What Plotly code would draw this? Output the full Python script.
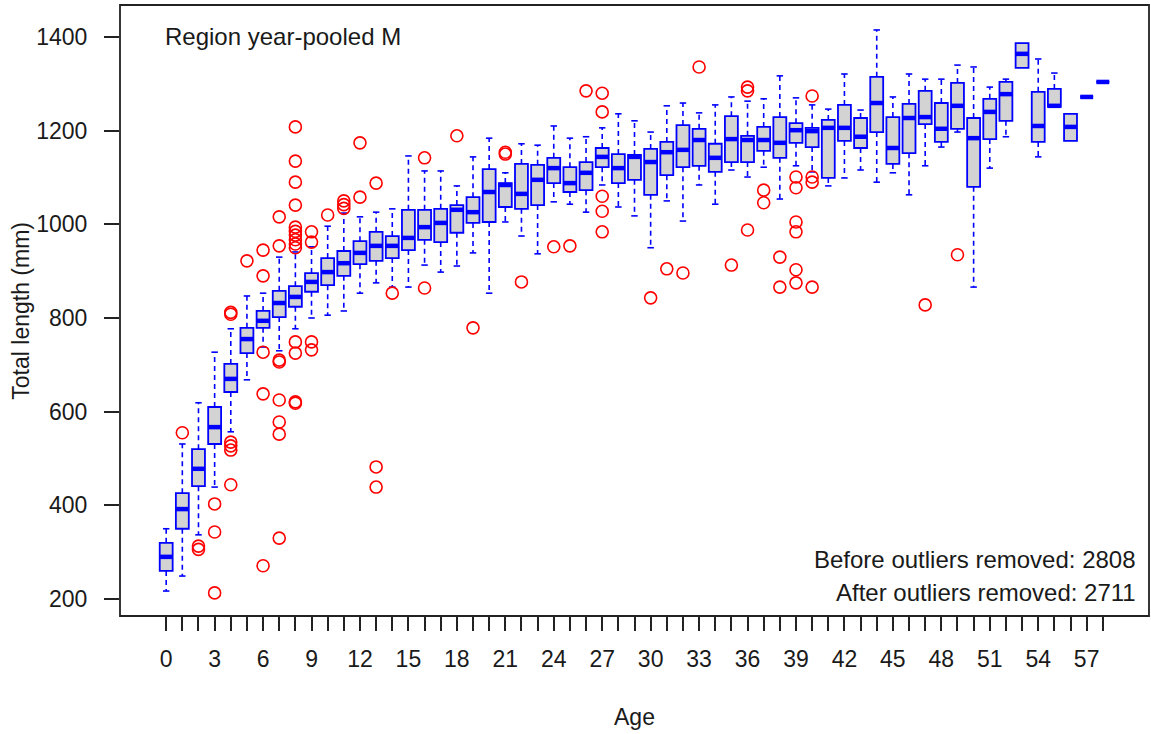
import plotly.graph_objects as go

# per-age box statistics (Total length, mm)
ages = list(range(59))
lower = [217, 249, 337, 439, 557, 668, 738, 730, 777, 800,
         806, 815, 853, 875, 866, 866, 913, 898, 911, 939,
         853, 1005, 975, 937, 1048, 1043, 1026, 1084, 1037, 1018,
         950, 1050, 1007, 1084, 1043, 1116, 1101, 1122, 1054, 1125,
         1112, 1082, 1099, 1116, 1090, 1110, 1063, 1125, 1165, 1197,
         866, 1120, 1187, 1334, 1144, 1251, 1178, 1272, 1304]
q1 = [260, 350, 441, 531, 642, 725, 779, 802, 824, 856,
      870, 890, 915, 922, 928, 945, 967, 962, 982, 1003,
      1005, 1037, 1033, 1041, 1088, 1069, 1073, 1122, 1088, 1095,
      1063, 1105, 1122, 1125, 1112, 1133, 1133, 1157, 1142, 1174,
      1165, 1099, 1178, 1163, 1197, 1129, 1152, 1214, 1176, 1204,
      1080, 1182, 1221, 1334, 1176, 1251, 1178, 1272, 1304]
median = [290, 392, 478, 567, 670, 755, 794, 832, 845, 877,
          898, 917, 939, 954, 954, 971, 994, 1003, 1031, 1026,
          1069, 1084, 1065, 1095, 1120, 1088, 1110, 1144, 1120, 1144,
          1133, 1154, 1159, 1180, 1142, 1182, 1180, 1180, 1174, 1201,
          1199, 1206, 1206, 1187, 1259, 1163, 1227, 1229, 1204, 1253,
          1184, 1240, 1278, 1364, 1210, 1253, 1208, 1272, 1304]
q3 = [320, 426, 520, 610, 702, 779, 815, 858, 868, 896,
      928, 943, 964, 984, 975, 1031, 1031, 1033, 1041, 1058,
      1118, 1088, 1129, 1127, 1142, 1122, 1133, 1163, 1150, 1148,
      1161, 1176, 1212, 1204, 1172, 1231, 1189, 1208, 1229, 1216,
      1206, 1223, 1255, 1227, 1315, 1229, 1257, 1285, 1259, 1302,
      1227, 1268, 1304, 1387, 1283, 1289, 1236, 1272, 1304]
upper = [350, 531, 619, 727, 777, 847, 853, 930, 941, 952,
         996, 1024, 1016, 1026, 1033, 1146, 1114, 1114, 1082, 1144,
         1184, 1110, 1172, 1169, 1210, 1184, 1187, 1206, 1236, 1221,
         1197, 1253, 1259, 1238, 1255, 1272, 1263, 1268, 1317, 1270,
         1255, 1246, 1321, 1244, 1415, 1272, 1321, 1310, 1310, 1340,
         1336, 1293, 1310, 1387, 1353, 1323, 1236, 1272, 1304]

# outliers, one entry per point
out_age = [1, 2, 2, 3, 3, 3,
           4, 4, 4, 4, 4, 4,
           5, 6, 6, 6, 6, 6,
           7, 7, 7, 7, 7, 7, 7, 7,
           8, 8, 8, 8, 8, 8, 8, 8, 8, 8, 8, 8, 8, 8,
           9, 9, 9, 9, 10, 11, 11, 11, 12, 12, 13, 13, 13, 14,
           16, 16, 18, 19, 21, 21, 22, 24, 25, 26,
           27, 27, 27, 27, 27, 30, 31, 32, 33, 35,
           36, 36, 36, 37, 37, 38, 38,
           39, 39, 39, 39, 39, 39, 40, 40, 40, 40, 47, 49]
out_val = [555, 313, 306, 403, 343, 213,
           812, 808, 535, 527, 518, 444,
           922, 945, 890, 727, 638, 271,
           1016, 954, 710, 706, 625, 578, 552, 330,
           1208, 1135, 1090, 1041, 994, 985, 977, 967, 958, 950, 749, 725, 621, 618,
           984, 962, 749, 732, 1020, 1050, 1042, 1034, 1174, 1058, 1088, 482, 439, 853,
           1142, 864, 1189, 779, 1154, 1150, 877, 952, 954, 1285,
           1280, 1240, 1060, 1028, 984, 843, 905, 896, 1336, 913,
           1293, 1285, 988, 1073, 1046, 930, 866,
           1101, 1078, 1005, 984, 903, 875, 1274, 1101, 1090, 866, 828, 935]

y_ticks = [200, 400, 600, 800, 1000, 1200, 1400]
x_ticktext = [str(a) if a % 3 == 0 else '' for a in ages]

BLUE = '#0000FF'
FONT = 'Liberation Sans, Arial, sans-serif'

fig = go.Figure()

# dashed whiskers
wx, wy = [], []
for a, lo, b1, b3, hi in zip(ages, lower, q1, q3, upper):
    if hi > b3:
        wx += [a, a, None]
        wy += [b3, hi, None]
    if lo < b1:
        wx += [a, a, None]
        wy += [b1, lo, None]
fig.add_trace(go.Scatter(x=wx, y=wy, mode='lines', hoverinfo='skip',
                         line=dict(color=BLUE, width=1.6, dash='5px,4px'), showlegend=False))

# whisker caps
cx, cy = [], []
for a, lo, b1, b3, hi in zip(ages, lower, q1, q3, upper):
    if hi > b3:
        cx += [a - 0.2, a + 0.2, None]
        cy += [hi, hi, None]
    if lo < b1:
        cx += [a - 0.2, a + 0.2, None]
        cy += [lo, lo, None]
fig.add_trace(go.Scatter(x=cx, y=cy, mode='lines', hoverinfo='skip',
                         line=dict(color=BLUE, width=1.6), showlegend=False))

# boxes
fig.add_trace(go.Box(
    x=ages, q1=q1, median=median, q3=q3,
    lowerfence=q1, upperfence=q3,
    width=0.8, boxpoints=False,
    fillcolor='#D3D3D3', line=dict(color=BLUE, width=1.8),
    showlegend=False,
))

# thick medians
mx, my = [], []
for a, m in zip(ages, median):
    mx += [a - 0.4, a + 0.4, None]
    my += [m, m, None]
fig.add_trace(go.Scatter(x=mx, y=my, mode='lines', hoverinfo='skip',
                         line=dict(color=BLUE, width=4.5), showlegend=False))

# outliers
fig.add_trace(go.Scatter(
    x=out_age, y=out_val, mode='markers',
    marker=dict(symbol='circle-open', size=12, color='#FF0000', line=dict(width=1.6)),
    showlegend=False,
))

fig.update_layout(
    width=1151, height=734,
    margin=dict(l=120, r=2, t=5, b=118),
    plot_bgcolor='white', paper_bgcolor='white',
    font=dict(family=FONT, size=23, color='#1a1a1a'),
    xaxis=dict(range=[-2.86, 60.86], tickvals=ages, ticktext=x_ticktext,
               ticks='outside', ticklen=14, tickwidth=1.5, tickcolor='#222',
               showgrid=False, zeroline=False, showline=False,
               ticklabelstandoff=8),
    yaxis=dict(range=[163.7, 1468.3], tickvals=y_ticks,
               ticks='outside', ticklen=15, tickwidth=1.5, tickcolor='#222',
               showgrid=False, zeroline=False, showline=False,
               ticklabelstandoff=12),
    shapes=[dict(type='rect', xref='paper', yref='paper', x0=0, x1=1, y0=0, y1=1,
                 line=dict(color='#222', width=1.8))],
    annotations=[
        dict(text='Region year-pooled M', xref='paper', yref='paper', x=0.042, y=0.948,
             xanchor='left', yanchor='middle', showarrow=False, font=dict(size=24)),
        dict(text='Before outliers removed: 2808', xref='paper', yref='paper', x=0.989, y=0.092,
             xanchor='right', yanchor='middle', showarrow=False, font=dict(size=24)),
        dict(text='After outliers removed: 2711', xref='paper', yref='paper', x=0.989, y=0.039,
             xanchor='right', yanchor='middle', showarrow=False, font=dict(size=24)),
        dict(text='Total length (mm)', xref='paper', yref='paper', x=-0.097, y=0.5,
             xanchor='center', yanchor='middle', textangle=-90, showarrow=False),
        dict(text='Age', xref='paper', yref='paper', x=0.5, y=-0.165,
             xanchor='center', yanchor='middle', showarrow=False),
    ],
)

fig.write_html('out.html', config={'displayModeBar': False},
               post_script="document.body.style.margin='0';")
